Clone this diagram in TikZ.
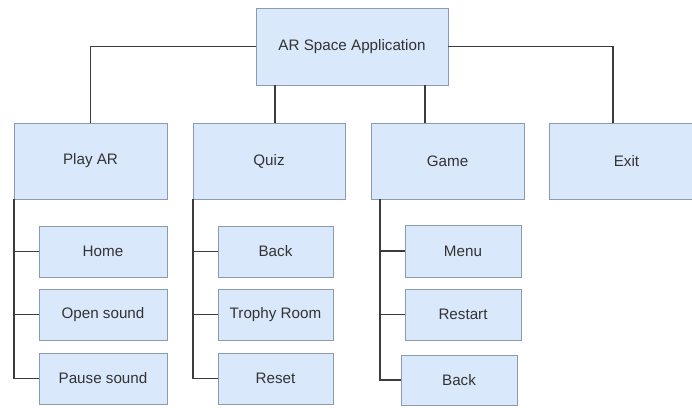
\documentclass[tikz,border=0pt]{standalone}
\usepackage{fontspec}
\setmainfont{Liberation Sans}
\definecolor{boxfill}{HTML}{DAE8FC}
\definecolor{boxline}{HTML}{8A9AB0}
\definecolor{conn}{HTML}{3C3C3C}
\definecolor{txt}{HTML}{333333}
\begin{document}
\begin{tikzpicture}[x=1pt,y=-1pt,
  box/.style={draw=boxline,fill=boxfill,line width=1pt,rectangle,inner sep=0pt,outer sep=0pt,
    text=txt,font=\fontsize{15.2}{17}\selectfont},
  bigbox/.style={box,minimum width=153pt,minimum height=76pt},
  smallbox/.style={box,minimum height=51pt},
  link/.style={draw=conn,line width=1.7pt}]
\useasboundingbox (0,0) rectangle (692,407);
\clip (0,0) rectangle (692,407);
% top level
\node[box,minimum width=192pt,minimum height=77pt] (root) at (352,46.5) {AR Space Application};
\node[bigbox] (play) at (90.5,161) {Play AR};
\node[bigbox,minimum width=152pt] (quiz) at (269,161) {Quiz};
\node[bigbox] (game) at (447.5,161) {Game};
\node[bigbox,minimum width=155pt] (exit) at (626.5,161) {Exit};
% Play AR children
\node[smallbox,minimum width=128pt] (home) at (103,251.5) {Home};
\node[smallbox,minimum width=128pt] (opensound) at (103,314.5) {Open sound};
\node[smallbox,minimum width=128pt] (pausesound) at (103,378.5) {Pause sound};
% Quiz children
\node[smallbox,minimum width=115pt] (qback) at (275.5,251.5) {Back};
\node[smallbox,minimum width=115pt] (trophy) at (275.5,314.5) {Trophy Room};
\node[smallbox,minimum width=115pt] (reset) at (275.5,378.5) {Reset};
% Game children
\node[smallbox,minimum width=116pt,minimum height=52pt] (menu) at (463,251) {Menu};
\node[smallbox,minimum width=116pt] (restart) at (463,314.5) {Restart};
\node[smallbox,minimum width=116pt,minimum height=50pt] (gback) at (459,380) {Back};
% connectors from root
\draw[link] (root.west) -| (play.north);
\draw[link] (root.east) -| ([xshift=-13.5]exit.north);
\draw[link] ([xshift=-77]root.south) -- ([xshift=-77]root.south |- quiz.north);
\draw[link] ([xshift=73]root.south) -- ([xshift=73]root.south |- game.north);
% Play AR trunk
\draw[link] (play.south west) |- (pausesound.west);
\draw[link] (play.south west |- home.west) -- (home.west);
\draw[link] (play.south west |- opensound.west) -- (opensound.west);
% Quiz trunk
\draw[link] (quiz.south west) |- (reset.west);
\draw[link] (quiz.south west |- qback.west) -- (qback.west);
\draw[link] (quiz.south west |- trophy.west) -- (trophy.west);
% Game trunk
\draw[link] ([xshift=9]game.south west) |- (gback.west);
\draw[link] ([xshift=9]game.south west |- menu.west) -- (menu.west);
\draw[link] ([xshift=9]game.south west |- restart.west) -- (restart.west);
\end{tikzpicture}
\end{document}
